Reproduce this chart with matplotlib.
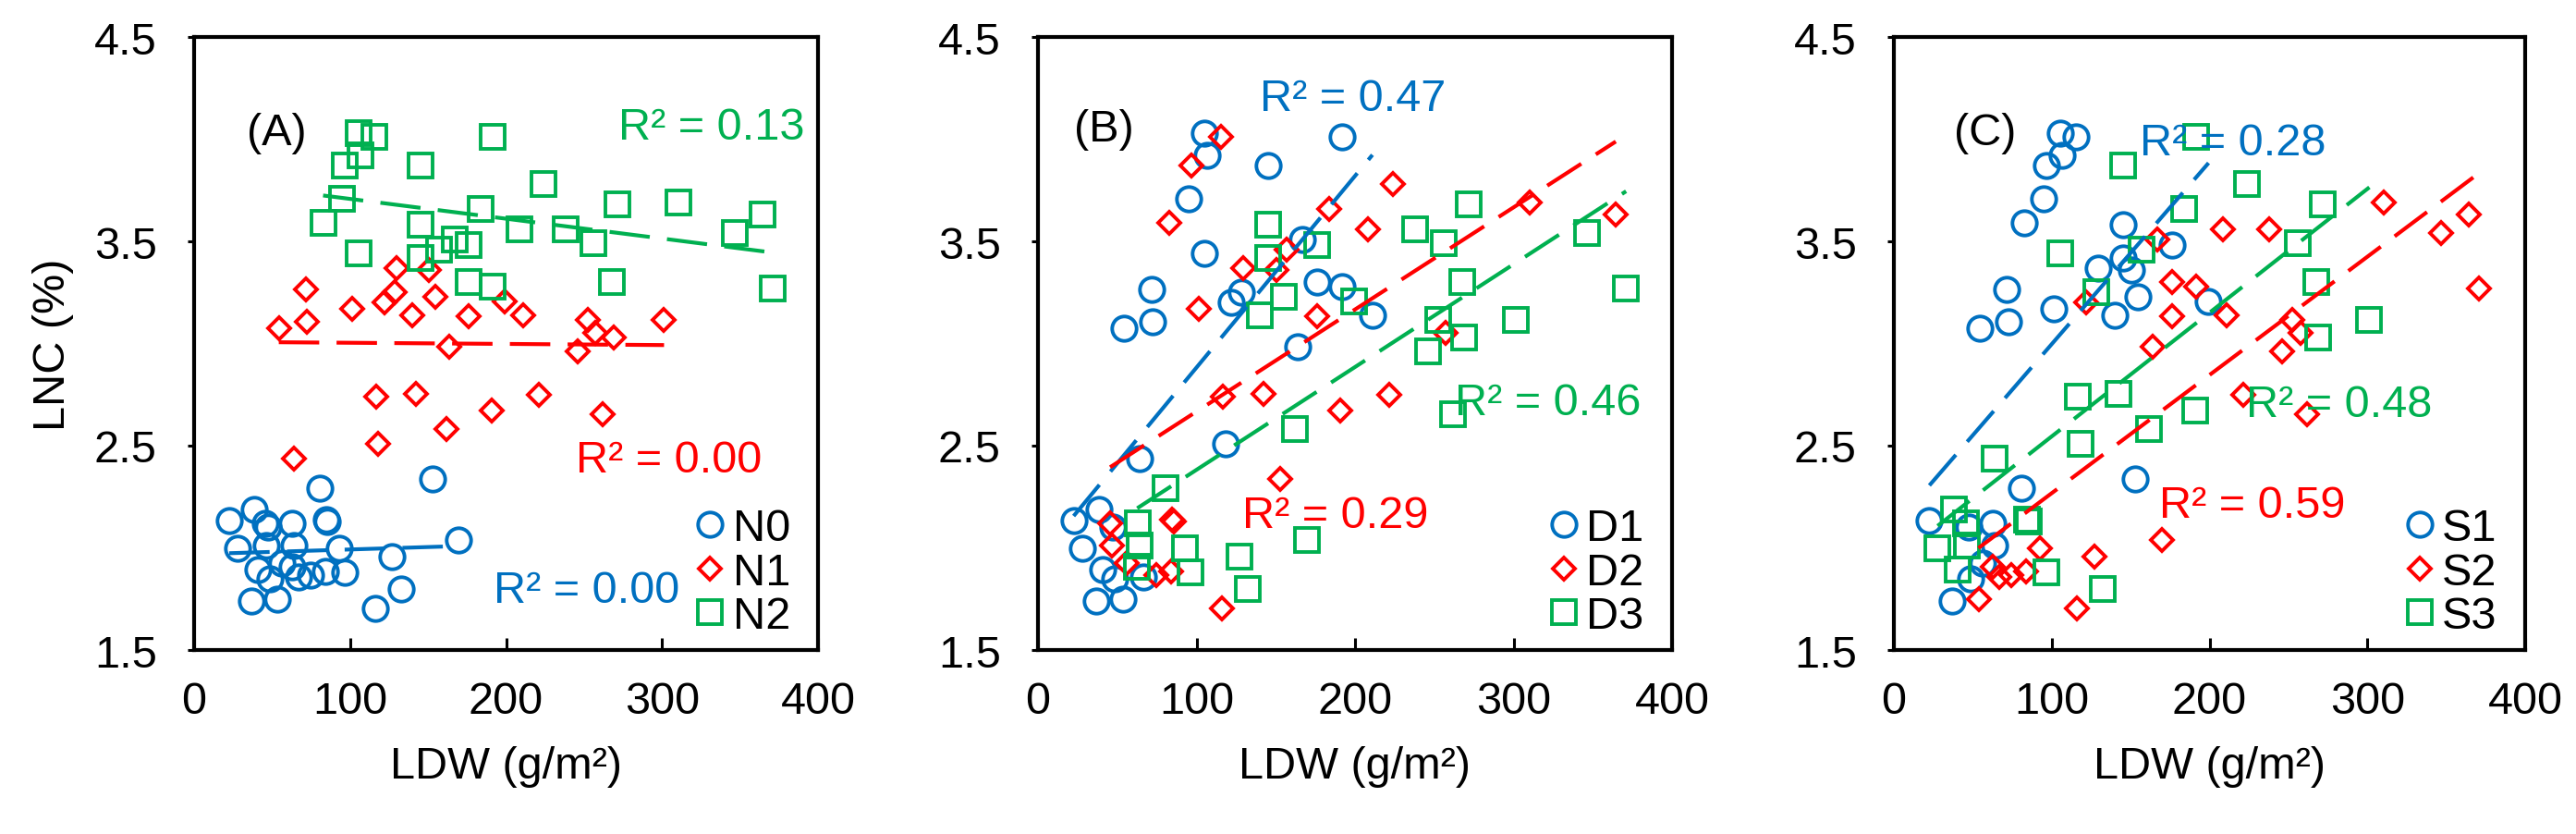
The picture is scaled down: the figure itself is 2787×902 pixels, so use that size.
import numpy as np
import matplotlib
matplotlib.use("Agg")
import matplotlib.pyplot as plt

plt.rcParams['font.family'] = ['Liberation Sans', 'DejaVu Sans']

# 81 samples, each with its nitrogen (N), density (D) and sowing (S) group
ldw = [153, 80.7, 38.3, 22.5, 45.5, 47.5, 62.8, 84.5, 85.5, 27.7, 46.5, 63.9, 92.8, 169.6,
       127.1, 40.7, 62.6, 74.5, 84, 96.5, 48.4, 132.5, 36.8, 53.6, 116, 66.7, 56,
       129.7, 150.3, 71.6, 128.4, 121.9, 101.3, 154.9, 140, 176.1, 199.4, 211, 72.4, 54.3, 301.3,
       252.3, 257.4, 269, 163.7, 245.8, 116.8, 142.1, 221.3, 190.8, 261.8, 161.9, 118.1, 63.9,
       105.2, 115.5, 191.6, 106.5, 96.6, 145.2, 223.9, 94.8, 271.6, 310.3, 183.9, 82.7, 364.5, 346.5,
       208.4, 238, 145.2, 167, 176, 256, 105.2, 145.2, 176, 267.7, 191.6, 371, 157]
lnc = [2.335, 2.29, 2.19, 2.135, 2.12, 2.10, 2.12, 2.14, 2.13, 2.0, 2.01, 2.01, 2.0, 2.038,
       1.955, 1.895, 1.905, 1.866, 1.886, 1.879, 1.848, 1.797, 1.74, 1.748, 1.705, 1.856, 1.925,
       3.37, 3.36, 3.265, 3.25, 3.20, 3.17, 3.227, 3.14, 3.132, 3.205, 3.14, 3.106, 3.076, 3.114,
       3.114, 3.053, 3.03, 2.985, 2.962, 2.739, 2.755, 2.75, 2.674, 2.652, 2.583, 2.508, 2.436,
       4.03, 4.01, 4.01, 3.92, 3.87, 3.87, 3.78, 3.71, 3.68, 3.69, 3.66, 3.59, 3.63, 3.54,
       3.56, 3.56, 3.58, 3.51, 3.48, 3.49, 3.44, 3.42, 3.30, 3.30, 3.28, 3.27, 3.46]
n_group = [1] * 27 + [2] * 27 + [3] * 27
d_group = [2, 3, 1, 1, 2, 1, 3, 2, 2, 1, 2, 3, 3, 3, 3, 1, 3, 2, 2, 3, 1, 3, 1, 1, 2, 1, 2,
           2, 2, 1, 1, 1, 2, 3, 3, 2, 3, 1, 1, 1, 3, 3, 2, 3, 1, 3, 2, 2, 2, 2, 3, 3, 1, 1,
           1, 2, 1, 1, 2, 1, 2, 1, 3, 2, 2, 2, 2, 3, 2, 3, 3, 1, 3, 3, 1, 3, 1, 3, 1, 3, 2]
s_group = [1, 1, 3, 1, 3, 1, 1, 3, 3, 3, 3, 1, 2, 2, 2, 3, 2, 2, 2, 3, 1, 3, 1, 2, 2, 2, 1,
           1, 1, 1, 3, 2, 1, 1, 1, 2, 1, 2, 1, 1, 3, 2, 2, 3, 2, 2, 3, 3, 2, 3, 2, 3, 3, 3,
           1, 1, 3, 1, 1, 3, 3, 1, 3, 2, 3, 1, 2, 2, 2, 2, 1, 2, 1, 3, 3, 1, 2, 3, 2, 2, 3]

panel_tags = ['(A)', '(B)', '(C)']
series_names = [['N0', 'N1', 'N2'], ['D1', 'D2', 'D3'], ['S1', 'S2', 'S3']]
r2_text = [['R² = 0.00', 'R² = 0.00', 'R² = 0.13'],
           ['R² = 0.47', 'R² = 0.29', 'R² = 0.46'],
           ['R² = 0.28', 'R² = 0.59', 'R² = 0.48']]
# left edge / vertical centre of the R² labels, in data units
r2_pos = [[(192, 1.79), (245, 2.43), (272, 4.06)],
          [(140, 4.20), (129, 2.16), (263, 2.71)],
          [(156, 3.98), (168, 2.21), (223, 2.70)]]
tag_pos = [(34, 4.03), (23, 4.05), (38, 4.03)]

colors = ['#0070C0', '#FF0000', '#00B050']
markers = ['o', 'D', 's']
msizes = [19, 12.5, 19]

W, H = 2787, 903
fig = plt.figure(figsize=(W / 100, H / 100), dpi=100)
boxes = [(210, 885), (1123, 1809), (2049, 2732)]
top, bottom = 41, 704

x = np.array(ldw)
y = np.array(lnc)
groupings = [np.array(n_group), np.array(d_group), np.array(s_group)]
fs = 35

for p in range(3):
    x0, x1 = boxes[p]
    ax = fig.add_axes([x0 / W, (H - bottom) / H, (x1 - x0) / W, (bottom - top) / H])
    g = groupings[p]
    for k in range(3):
        sel = g == k + 1
        ax.plot(x[sel], y[sel], linestyle='none', marker=markers[k], ms=msizes[k],
                mfc='none', mec=colors[k], mew=2.8, label=series_names[p][k], zorder=3)
    for k in range(3):
        sel = g == k + 1
        slope, icpt = np.polyfit(x[sel], y[sel], 1)
        xs = np.array([x[sel].min(), x[sel].max()])
        ax.plot(xs, slope * xs + icpt, color=colors[k], lw=3, dashes=(10.5, 4.5), zorder=4)
        tx, ty = r2_pos[p][k]
        ax.text(tx, ty, r2_text[p][k], color=colors[k], fontsize=fs, ha='left', va='center', zorder=5)
    ax.text(tag_pos[p][0], tag_pos[p][1], panel_tags[p], fontsize=fs, ha='left', va='center')

    ax.set_xlim(0, 400)
    ax.set_ylim(1.5, 4.5)
    ax.set_xticks([0, 100, 200, 300, 400])
    ax.set_yticks([1.5, 2.5, 3.5, 4.5])
    ax.set_yticklabels(['1.5', '2.5', '3.5', '4.5'])
    ax.tick_params(axis='x', direction='in', length=9.5, width=2.2, pad=24, labelsize=fs)
    ax.tick_params(axis='y', direction='out', length=5, width=2.2, pad=24, labelsize=fs)
    for sp in ax.spines.values():
        sp.set_linewidth(3)
    ax.set_xlabel('LDW (g/m²)', fontsize=fs, labelpad=18)
    if p == 0:
        ax.set_ylabel('LNC (%)', fontsize=fs, labelpad=16)

    ax.legend(loc='lower right', bbox_to_anchor=(1 - 30 / 675, 14 / 663), borderaxespad=0,
              borderpad=0, frameon=False, fontsize=fs, handlelength=0.6, handletextpad=0.2,
              labelspacing=0.05, numpoints=1)

fig.savefig('out.png', dpi=100)
